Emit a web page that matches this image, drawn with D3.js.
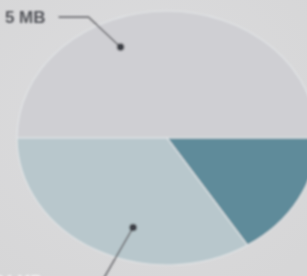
<!DOCTYPE html>
<html>
<head>
<meta charset="utf-8">
<script src="https://cdn.jsdelivr.net/npm/d3@7"></script>
<style>
  html, body { margin: 0; padding: 0; background: #dbdbdc; }
  svg { display: block; }
</style>
</head>
<body>
<svg id="chart"></svg>
<script>
  const width = 307,
        height = 276,
        cx = 167, cy = 138,
        radius = 150,
        squash = 127 / 150;   // photo is seen at a slant, pie looks oval

  // slices, clockwise from 9 o'clock
  const sliceNames  = ["Top", "Dark", "Light"];
  const sliceValues = [50, 16, 34];
  const sliceColors = ["#cfcfd3", "#5e8b9a", "#b8c7cc"];

  // callouts: which slice, where in it (fraction of angle span, fraction of radius), text
  const calloutSlice = ["Top", "Light"];
  const calloutAngle = [0.37, 0.41];
  const calloutRad   = [0.78, 0.74];
  const calloutText  = ["5 MB", "24 MB"];

  let svg = d3.select("#chart")
              .attr("width", width)
              .attr("height", height);

  let defs = svg.append("defs");
  defs.append("filter")
      .attr("id", "soft")
      .attr("x", "-10%").attr("y", "-10%")
      .attr("width", "120%").attr("height", "120%")
      .append("feGaussianBlur")
      .attr("stdDeviation", 1.3);

  let bg = defs.append("radialGradient")
               .attr("id", "bg")
               .attr("cx", "45%").attr("cy", "40%").attr("r", "75%");
  bg.append("stop").attr("offset", "0%").attr("stop-color", "#dcdcde");
  bg.append("stop").attr("offset", "100%").attr("stop-color", "#d6d6d7");

  svg.append("rect")
     .attr("width", width)
     .attr("height", height)
     .attr("fill", "url(#bg)");

  let root = svg.append("g").attr("filter", "url(#soft)");

  let pie = d3.pie()
              .sort(null)
              .startAngle(-Math.PI / 2)
              .endAngle(Math.PI * 1.5)
              .value((d, i) => sliceValues[i]);

  let arcs = pie(sliceNames);

  let arc = d3.arc()
              .innerRadius(0)
              .outerRadius(radius);

  let pieG = root.append("g")
                 .attr("transform", "translate(" + cx + "," + cy + ") scale(1," + squash + ")");

  pieG.selectAll("path")
      .data(arcs)
      .enter()
      .append("path")
      .attr("d", arc)
      .attr("fill", (d, i) => sliceColors[i])
      .attr("stroke", "#e2e5e7")
      .attr("stroke-width", 1.2);

  // point inside a slice, in page coordinates
  function slicePoint (name, af, rf) {
    let a = arcs[sliceNames.indexOf(name)];
    let t = a.startAngle + (a.endAngle - a.startAngle) * af;
    let r = radius * rf;
    return [cx + r * Math.sin(t), cy - r * Math.cos(t) * squash];
  }

  let p0 = slicePoint(calloutSlice[0], calloutAngle[0], calloutRad[0]);
  let p1 = slicePoint(calloutSlice[1], calloutAngle[1], calloutRad[1]);

  // Top callout: elbow going up-left to the label
  let elbow0 = [p0[0] - 32, p0[1] - 30];
  let end0 = [elbow0[0] - 30, elbow0[1]];
  root.append("polyline")
      .attr("points", [p0, elbow0, end0].map(p => p.join(",")).join(" "))
      .attr("fill", "none")
      .attr("stroke", "#6f6f73")
      .attr("stroke-width", 1.6);

  root.append("text")
      .attr("x", end0[0] - 13)
      .attr("y", end0[1] + 6)
      .attr("text-anchor", "end")
      .attr("font-family", "Liberation Sans, Arial, sans-serif")
      .attr("font-weight", "bold")
      .attr("font-size", 17)
      .attr("fill", "#55565c")
      .text(calloutText[0]);

  // Bottom callout: line going down-left, label mostly below the frame
  let end1 = [p1[0] - 30, p1[1] + 52];
  root.append("line")
      .attr("x1", p1[0]).attr("y1", p1[1])
      .attr("x2", end1[0]).attr("y2", end1[1])
      .attr("stroke", "#6f6f73")
      .attr("stroke-width", 1.6);

  root.append("text")
      .attr("x", 42)
      .attr("y", 287)
      .attr("text-anchor", "end")
      .attr("font-family", "Liberation Sans, Arial, sans-serif")
      .attr("font-weight", "bold")
      .attr("font-size", 16)
      .attr("fill", "#f2f2f2")
      .text(calloutText[1]);

  root.selectAll("circle.dot")
      .data([p0, p1])
      .enter()
      .append("circle")
      .attr("class", "dot")
      .attr("cx", d => d[0])
      .attr("cy", d => d[1])
      .attr("r", 3.8)
      .attr("fill", "#3e4046");
</script>
</body>
</html>
